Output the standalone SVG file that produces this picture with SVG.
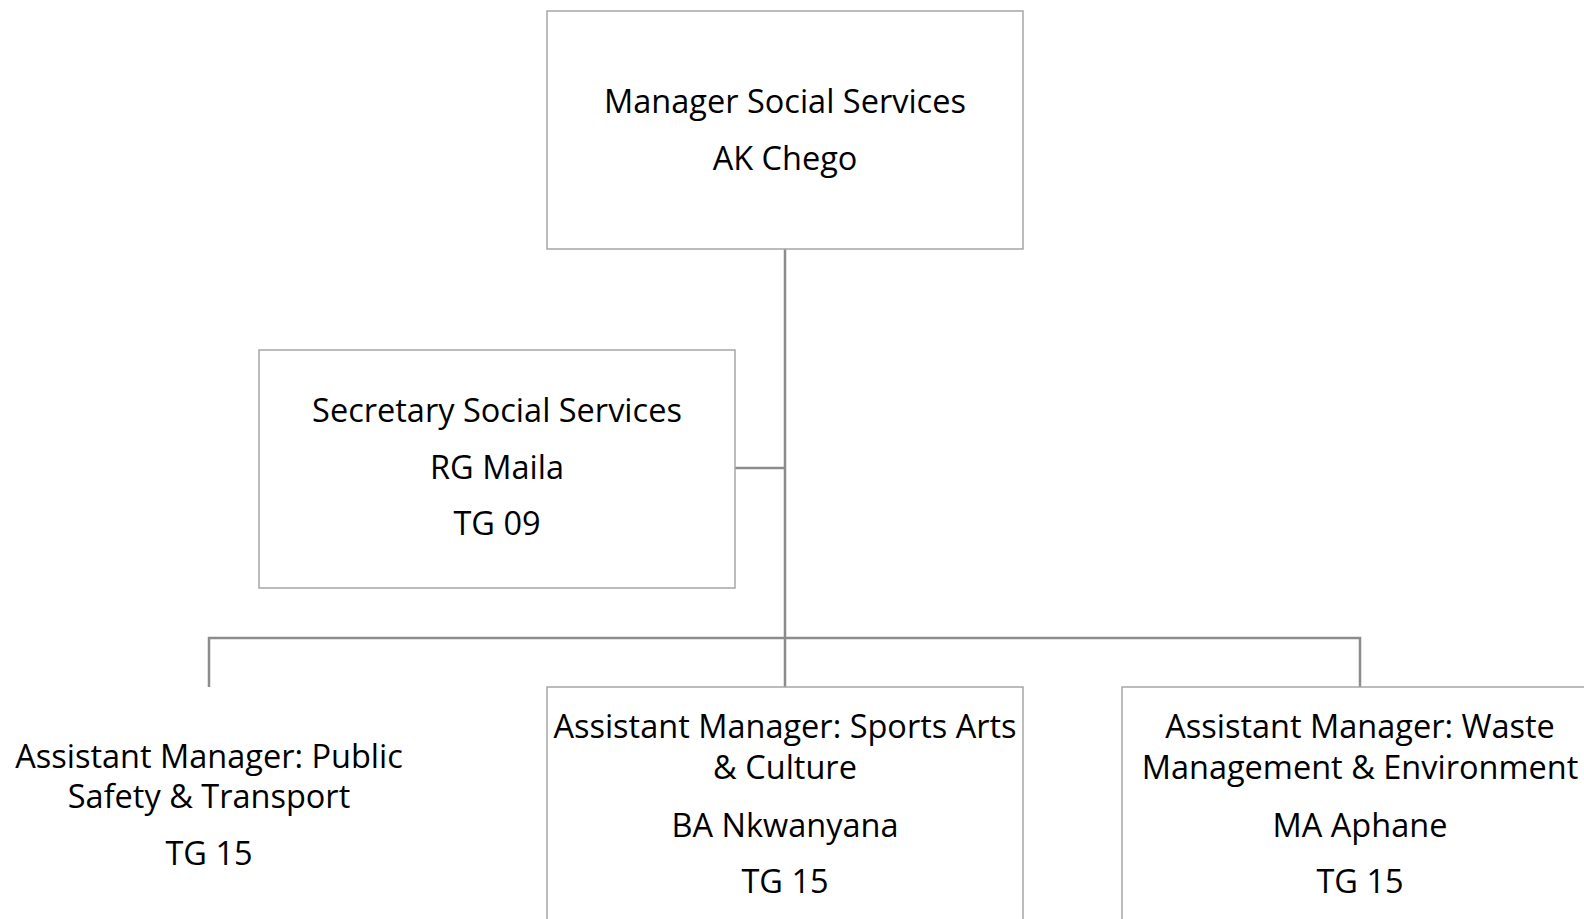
<svg xmlns="http://www.w3.org/2000/svg" width="1584" height="919" viewBox="0 0 1584 919">
<style>
.box{fill:#ffffff;stroke:#a6a6a6;stroke-width:1.5}
.nobox{fill:#ffffff;stroke:none}
.conn{fill:none;stroke:#8c8c8c;stroke-width:2.5}
text{font-family:"Open Sans","Noto Sans",sans-serif;font-size:32.5px;fill:#000000;text-anchor:middle}
</style>
<rect width="1584" height="919" fill="#ffffff"/>
<g id="connectors">
<path class="conn" d="M785 249 V687"/>
<path class="conn" d="M735 468 H785"/>
<path class="conn" d="M209 687 V638 H1360 V687"/>
</g>
<g id="manager">
<rect class="box" x="547" y="11" width="476" height="238"/>
<text x="785" y="113">Manager Social Services</text>
<text x="785" y="170">AK Chego</text>
</g>
<g id="secretary">
<rect class="box" x="259" y="350" width="476" height="238"/>
<text x="497" y="422">Secretary Social Services</text>
<text x="497" y="479">RG Maila</text>
<text x="497" y="535">TG 09</text>
</g>
<g id="am-public-safety">
<rect class="nobox" x="-29" y="687" width="476" height="238"/>
<text x="209" y="768">Assistant Manager: Public</text>
<text x="209" y="808">Safety &amp; Transport</text>
<text x="209" y="865">TG 15</text>
</g>
<g id="am-sports">
<rect class="box" x="547" y="687" width="476" height="238"/>
<text x="785" y="738">Assistant Manager: Sports Arts</text>
<text x="785" y="779">&amp; Culture</text>
<text x="785" y="837">BA Nkwanyana</text>
<text x="785" y="893">TG 15</text>
</g>
<g id="am-waste">
<rect class="box" x="1122" y="687" width="476" height="238"/>
<text x="1360" y="738">Assistant Manager: Waste</text>
<text x="1360" y="779">Management &amp; Environment</text>
<text x="1360" y="837">MA Aphane</text>
<text x="1360" y="893">TG 15</text>
</g>
</svg>
